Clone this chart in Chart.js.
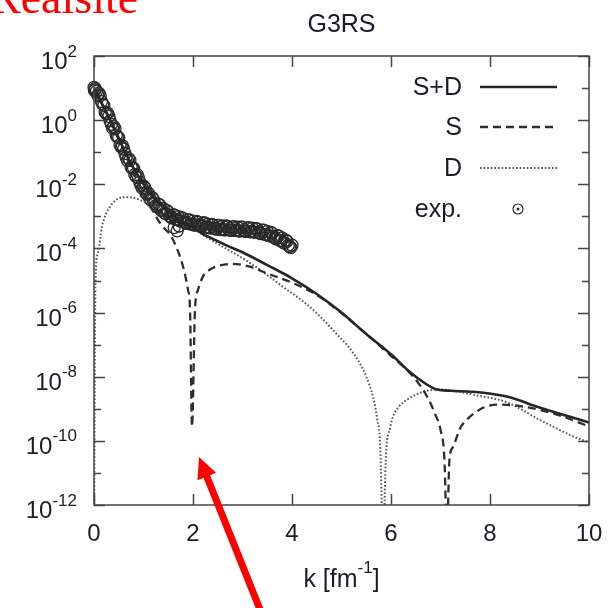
<!DOCTYPE html>
<html>
<head>
<meta charset="utf-8">
<script src="https://cdn.jsdelivr.net/npm/chart.js@4.4.1/dist/chart.umd.min.js"></script>
<style>
  html, body { margin: 0; padding: 0; background: #fff; }
  #wrap { position: relative; width: 611px; height: 608px; }
</style>
</head>
<body>
<div id="wrap"><canvas id="chart" width="611" height="608"></canvas></div>
<script>
// -- THE DATA -- (y values are stored as log10)

// S+D
const sdK   = [0, 0.2, 0.4, 0.6, 0.8, 1.0, 1.2, 1.4, 1.6, 1.8, 2.0, 2.2, 2.4, 2.7, 3.0, 3.5, 4.0, 4.5, 5.0, 5.5, 6.0, 6.4, 6.7, 6.93, 7.2, 7.66, 8.34, 9.0, 10];
const sdLog = [1.0, 0.4, -0.22, -0.9, -1.5, -2.0, -2.4, -2.72, -2.98, -3.18, -3.35, -3.55, -3.7, -3.92, -4.12, -4.52, -4.93, -5.42, -6.0, -6.67, -7.3, -7.88, -8.22, -8.4, -8.44, -8.47, -8.62, -8.96, -9.43];

// S
const sK   = [0, 0.2, 0.4, 0.6, 0.8, 1.0, 1.2, 1.35, 1.55, 1.7, 1.8, 1.9, 1.94, 1.98, 2.04, 2.1, 2.2, 2.35, 2.5, 2.8, 3.15, 3.5, 4.0, 4.5, 5.0, 5.5, 6.0, 6.45, 6.73, 6.9, 7.0, 7.08, 7.13, 7.18, 7.25, 7.4, 7.53, 7.86, 8.2, 8.67, 9.35, 10];
const sLog = [1.0, 0.38, -0.26, -0.96, -1.65, -2.25, -2.85, -3.25, -3.6, -4.1, -4.57, -5.3, -5.9, -9.55, -5.9, -5.3, -4.88, -4.65, -4.55, -4.48, -4.57, -4.78, -5.07, -5.45, -6.02, -6.67, -7.35, -8.0, -8.62, -9.2, -9.65, -10.6, -13, -10.6, -10.2, -9.6, -9.34, -8.97, -8.87, -8.93, -9.18, -9.55];

// D
const dK   = [0, 0.03, 0.08, 0.16, 0.25, 0.32, 0.42, 0.53, 0.65, 0.79, 0.95, 1.07, 1.33, 1.6, 1.9, 2.2, 2.48, 2.8, 3.15, 3.5, 3.82, 4.2, 4.5, 4.97, 5.17, 5.37, 5.5, 5.64, 5.72, 5.78, 5.84, 5.9, 5.98, 6.04, 6.15, 6.32, 6.65, 7.0, 7.3, 7.66, 8.34, 9.0, 9.68, 10];
const dLog = [-13, -5.0, -4.14, -3.33, -2.9, -2.71, -2.52, -2.42, -2.4, -2.42, -2.5, -2.58, -2.72, -2.95, -3.25, -3.58, -3.84, -4.12, -4.45, -4.83, -5.2, -5.62, -6.02, -6.78, -7.12, -7.58, -8.0, -8.65, -9.3, -10.1, -13, -10.4, -9.6, -9.25, -8.95, -8.72, -8.47, -8.4, -8.45, -8.56, -8.8, -9.34, -9.86, -10.05];

// exp. (first pass of points)
const expK = [0.00, 0.02, 0.05, 0.10, 0.15, 0.20, 0.25, 0.30, 0.35, 0.40, 0.45, 0.50, 0.55, 0.60, 0.65, 0.70, 0.75, 0.80, 0.85, 0.90, 0.95,
              1.00, 1.05, 1.10, 1.15, 1.20, 1.25, 1.30, 1.35, 1.40, 1.45, 1.50, 1.55, 1.60, 1.62, 1.65, 1.68, 1.70, 1.72, 1.75, 1.80, 1.85, 1.90, 1.95,
              2.00, 2.05, 2.10, 2.15, 2.20, 2.25, 2.30, 2.35, 2.40, 2.45, 2.50, 2.55, 2.60, 2.65, 2.70, 2.75, 2.80, 2.85, 2.90, 2.95,
              3.00, 3.05, 3.10, 3.15, 3.20, 3.25, 3.30, 3.35, 3.40, 3.45, 3.50, 3.55, 3.60, 3.65, 3.70, 3.75, 3.80, 3.85, 3.90, 3.95, 4.00];
const expLog = [1.02, 0.95, 0.90, 0.84, 0.58, 0.46, 0.20, 0.12, -0.13, -0.20, -0.47, -0.55, -0.84, -0.90, -1.16, -1.20, -1.46, -1.50, -1.76, -1.80, -2.04,
                -2.05, -2.28, -2.28, -2.49, -2.47, -2.66, -2.62, -2.80, -2.75, -2.92, -2.86, -3.02, -2.95, -3.35, -3.09, -3.45, -3.01, -3.30, -3.15, -3.07, -3.20, -3.11, -3.24,
                -3.15, -3.27, -3.18, -3.30, -3.21, -3.33, -3.24, -3.36, -3.27, -3.39, -3.29, -3.41, -3.30, -3.42, -3.32, -3.43, -3.33, -3.44, -3.34, -3.45,
                -3.35, -3.46, -3.36, -3.48, -3.37, -3.49, -3.40, -3.52, -3.43, -3.56, -3.47, -3.61, -3.53, -3.67, -3.60, -3.75, -3.67, -3.83, -3.77, -3.94, -3.90];

// exp. (second pass, between the first)
const expK2 = [0.01, 0.025, 0.075, 0.125, 0.175, 0.225, 0.275, 0.325, 0.375, 0.425, 0.475, 0.525, 0.575, 0.625, 0.675, 0.725, 0.775, 0.825, 0.875, 0.925, 0.975,
               1.025, 1.075, 1.125, 1.175, 1.225, 1.275, 1.325, 1.375, 1.425, 1.475, 1.525, 1.575, 1.625, 1.675, 1.725, 1.775, 1.825, 1.875, 1.925, 1.975,
               2.025, 2.075, 2.125, 2.175, 2.225, 2.275, 2.325, 2.375, 2.425, 2.475, 2.525, 2.575, 2.625, 2.675, 2.725, 2.775, 2.825, 2.875, 2.925, 2.975,
               3.025, 3.075, 3.125, 3.175, 3.225, 3.275, 3.325, 3.375, 3.425, 3.475, 3.525, 3.575, 3.625, 3.675, 3.725, 3.775, 3.825, 3.875, 3.925, 3.975];
const expLog2 = [0.92, 0.99, 0.78, 0.76, 0.50, 0.25, 0.22, -0.02, -0.25, -0.27, -0.53, -0.77, -0.80, -1.04, -1.26, -1.25, -1.50, -1.70, -1.70, -1.94, -2.12,
                 -2.10, -2.31, -2.44, -2.41, -2.60, -2.70, -2.64, -2.82, -2.90, -2.82, -2.98, -3.05, -2.96, -3.10, -3.13, -3.04, -3.18, -3.22, -3.11, -3.24,
                 -3.27, -3.16, -3.28, -3.31, -3.20, -3.33, -3.36, -3.25, -3.37, -3.40, -3.28, -3.40, -3.42, -3.30, -3.42, -3.44, -3.32, -3.43, -3.46, -3.33,
                 -3.45, -3.47, -3.35, -3.47, -3.49, -3.38, -3.50, -3.54, -3.43, -3.56, -3.60, -3.50, -3.64, -3.70, -3.61, -3.75, -3.82, -3.74, -3.90, -3.97];

// axes
const xTicks = [0, 2, 4, 6, 8, 10];
const yTickExps = [2, 0, -2, -4, -6, -8, -10, -12];
const yMinorExps = [1, -1, -3, -5, -7, -9, -11];

const legendNames = ['S+D', 'S', 'D', 'exp.'];

// -- THE CHART --

const textColor = '#1c1c28';
const font = '"Liberation Sans", Arial, sans-serif';

function toPoints(ks, logs) {
  return ks.map((k, i) => ({ x: k, y: Math.pow(10, logs[i]) }));
}

const lineBase = { showLine: true, pointRadius: 0, clip: 0, cubicInterpolationMode: 'monotone' };

const datasets = [
  { ...lineBase, label: legendNames[0], data: toPoints(sdK, sdLog), borderColor: '#262626', borderWidth: 2.6 },
  { ...lineBase, label: legendNames[1], data: toPoints(sK, sLog), borderColor: '#2e2e2e', borderWidth: 2.3, borderDash: [8, 5] },
  { ...lineBase, label: legendNames[2], data: toPoints(dK, dLog), borderColor: '#555', borderWidth: 2, borderDash: [1.6, 2] },
  { label: legendNames[3], data: toPoints(expK, expLog).concat(toPoints(expK2, expLog2)), showLine: false,
    pointRadius: 6, pointStyle: 'circle', borderColor: '#2a2a2a', borderWidth: 1.3, backgroundColor: 'rgba(0,0,0,0)', clip: false }
];

// frame, ticks, labels, legend and notes drawn around the plot
const decor = {
  id: 'decor',
  afterDraw(chart) {
    const ctx = chart.ctx;
    const a = chart.chartArea;
    const xs = chart.scales.x, ys = chart.scales.y;
    ctx.save();

    // frame + inward ticks
    ctx.strokeStyle = '#444';
    ctx.lineWidth = 1.5;
    ctx.setLineDash([]);
    ctx.strokeRect(a.left, a.top, a.right - a.left, a.bottom - a.top);
    ctx.beginPath();
    xTicks.forEach(v => {
      const px = Math.round(xs.getPixelForValue(v)) + 0.5;
      ctx.moveTo(px, a.bottom); ctx.lineTo(px, a.bottom - 11);
      ctx.moveTo(px, a.top); ctx.lineTo(px, a.top + 11);
    });
    yTickExps.forEach(e => {
      const py = Math.round(ys.getPixelForValue(Math.pow(10, e))) + 0.5;
      ctx.moveTo(a.left, py); ctx.lineTo(a.left + 11, py);
      ctx.moveTo(a.right, py); ctx.lineTo(a.right - 11, py);
    });
    yMinorExps.forEach(e => {
      const py = Math.round(ys.getPixelForValue(Math.pow(10, e))) + 0.5;
      ctx.moveTo(a.left, py); ctx.lineTo(a.left + 7, py);
      ctx.moveTo(a.right, py); ctx.lineTo(a.right - 7, py);
    });
    ctx.stroke();

    ctx.fillStyle = textColor;

    // y tick labels 10^n
    yTickExps.forEach(e => {
      const py = ys.getPixelForValue(Math.pow(10, e));
      const sup = String(e);
      ctx.font = '17px ' + font;
      const supW = ctx.measureText(sup).width;
      ctx.textAlign = 'left';
      ctx.textBaseline = 'alphabetic';
      ctx.fillText(sup, 77 - supW, py + 0.5);
      ctx.font = '24px ' + font;
      ctx.textAlign = 'right';
      ctx.fillText('10', 77 - supW, py + 13);
    });

    // x tick labels
    ctx.font = '24px ' + font;
    ctx.textAlign = 'center';
    ctx.textBaseline = 'alphabetic';
    xTicks.forEach(v => {
      ctx.fillText(String(v), xs.getPixelForValue(v), 541);
    });

    // x axis title: k [fm^-1]
    const cx = (a.left + a.right) / 2;
    ctx.font = '25px ' + font;
    const p1 = 'k [fm', p3 = ']';
    const w1 = ctx.measureText(p1).width, w3 = ctx.measureText(p3).width;
    ctx.font = '17px ' + font;
    const p2 = '-1';
    const w2 = ctx.measureText(p2).width;
    const tx = cx - (w1 + w2 + w3) / 2;
    ctx.textAlign = 'left';
    ctx.font = '25px ' + font;
    ctx.fillText(p1, tx, 587);
    ctx.font = '17px ' + font;
    ctx.fillText(p2, tx + w1, 573);
    ctx.font = '25px ' + font;
    ctx.fillText(p3, tx + w1 + w2, 587);

    // title
    ctx.textAlign = 'center';
    ctx.font = '25px ' + font;
    ctx.fillText('G3RS', cx, 32);

    // legend (inside, top right)
    const rows = [87, 127, 168, 209];
    ctx.font = '25px ' + font;
    ctx.textAlign = 'right';
    ctx.textBaseline = 'middle';
    legendNames.forEach((name, i) => {
      ctx.fillStyle = textColor;
      ctx.fillText(name, 462, rows[i] + 1);
      const ds = chart.data.datasets[i];
      if (ds.showLine) {
        ctx.strokeStyle = ds.borderColor;
        ctx.lineWidth = ds.borderWidth;
        ctx.setLineDash(ds.borderDash || []);
        ctx.beginPath();
        ctx.moveTo(480, rows[i]);
        ctx.lineTo(557, rows[i]);
        ctx.stroke();
      } else {
        ctx.setLineDash([]);
        ctx.strokeStyle = ds.borderColor;
        ctx.lineWidth = 1.2;
        ctx.beginPath();
        ctx.arc(518, rows[i], 5, 0, Math.PI * 2);
        ctx.stroke();
        ctx.fillStyle = ds.borderColor;
        ctx.beginPath();
        ctx.arc(518, rows[i], 1.5, 0, Math.PI * 2);
        ctx.fill();
      }
    });

    // red note at top left
    ctx.setLineDash([]);
    ctx.fillStyle = '#ff0000';
    ctx.textAlign = 'left';
    ctx.textBaseline = 'alphabetic';
    ctx.font = '46px "Liberation Serif", "Times New Roman", serif';
    ctx.fillText('Realsite', -10, 13);

    // red arrow
    const tip = { x: 199, y: 457 }, tail = { x: 261, y: 612 };
    const dx = tip.x - tail.x, dy = tip.y - tail.y;
    const len = Math.hypot(dx, dy);
    const ux = dx / len, uy = dy / len;
    const hb = { x: tip.x - ux * 21, y: tip.y - uy * 21 };
    ctx.strokeStyle = '#ff0000';
    ctx.lineWidth = 7;
    ctx.beginPath();
    ctx.moveTo(tail.x, tail.y);
    ctx.lineTo(hb.x + ux * 2, hb.y + uy * 2);
    ctx.stroke();
    ctx.beginPath();
    ctx.moveTo(tip.x, tip.y);
    ctx.lineTo(hb.x - uy * 10, hb.y + ux * 10);
    ctx.lineTo(hb.x + uy * 10, hb.y - ux * 10);
    ctx.closePath();
    ctx.fill();

    ctx.restore();
  }
};

new Chart(document.getElementById('chart').getContext('2d'), {
  type: 'scatter',
  data: { datasets: datasets },
  options: {
    responsive: false,
    animation: false,
    devicePixelRatio: 1,
    layout: { padding: { left: 94, top: 56, right: 22, bottom: 103 } },
    scales: {
      x: { type: 'linear', min: 0, max: 10, display: false },
      y: { type: 'logarithmic', min: 1e-12, max: 1e2, display: false }
    },
    plugins: {
      legend: { display: false },
      tooltip: { enabled: false },
      title: { display: false }
    }
  },
  plugins: [decor]
});
</script>
</body>
</html>
